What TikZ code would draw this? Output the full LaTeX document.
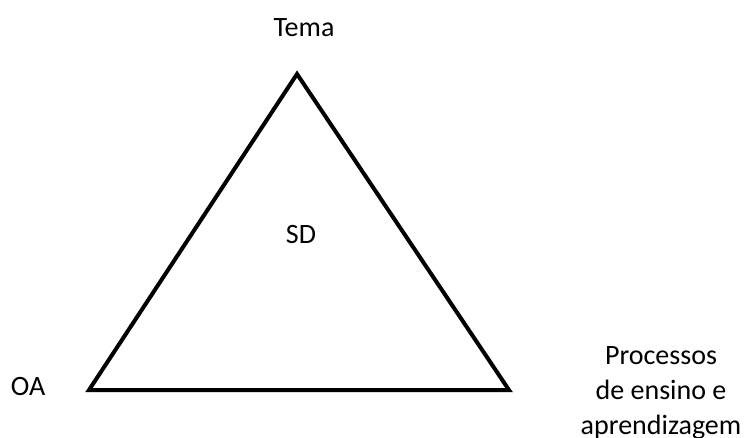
\documentclass[tikz,border=0pt]{standalone}
\usepackage{fontspec}
\setmainfont{Carlito}
\begin{document}
\begin{tikzpicture}[x=0.75pt, y=-0.75pt,
    every node/.style={font=\fontsize{21}{25.9}\selectfont, inner sep=0pt},
    lado/.style={line width=3pt, line join=miter}]
  \useasboundingbox (0,0) rectangle (748,438);
  % vertices
  \coordinate (topo) at (297,74);
  \coordinate (esq) at (89,390);
  \coordinate (dir) at (509,390);
  \draw[lado] (topo) -- (esq) -- (dir) -- cycle;
  % rotulos
  \node[anchor=base] (tema) at (304,37) {Tema};
  \node[anchor=base] (sd) at (301,243) {SD};
  \node[anchor=base] (oa) at (28,395) {OA};
  \node[anchor=base, align=center] (proc) at (661,434) {Processos\\de ensino e\\aprendizagem};
\end{tikzpicture}
\end{document}
